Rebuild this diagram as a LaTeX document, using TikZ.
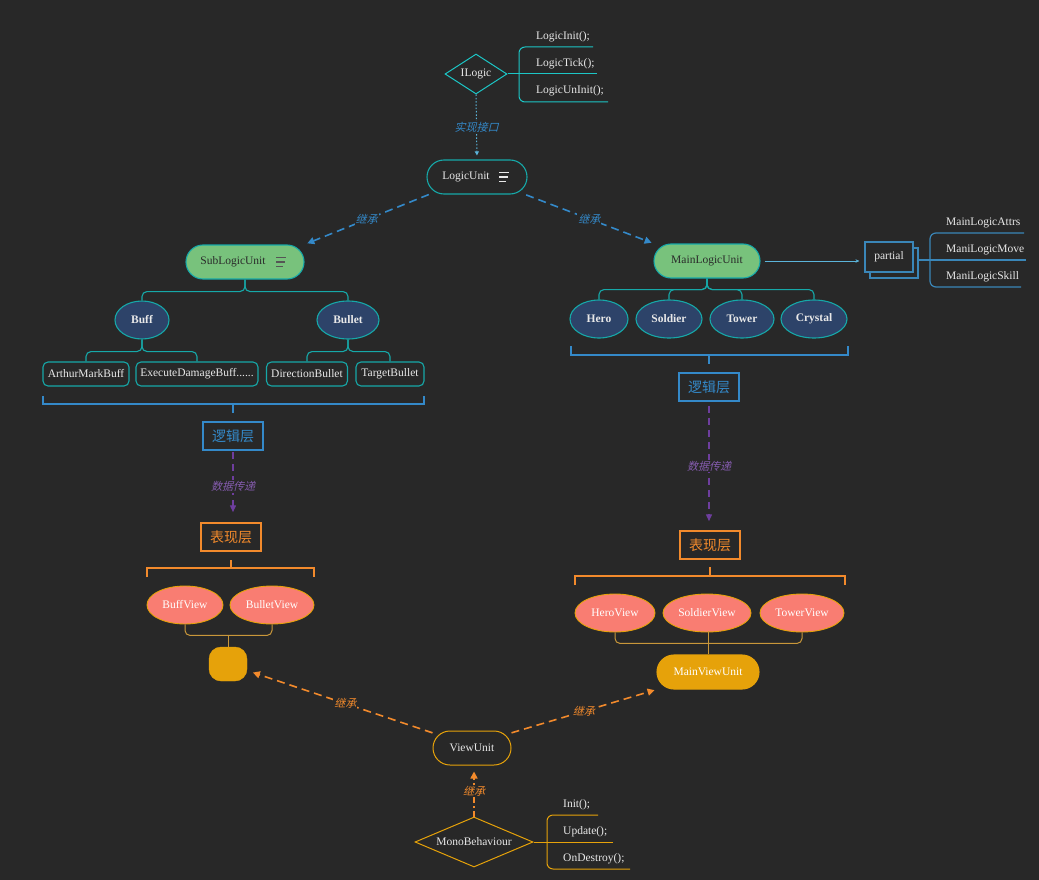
\documentclass[tikz,border=0pt]{standalone}
\usepackage{fontspec}
\setmainfont{Liberation Serif}
\newfontfamily\cjk{Noto Sans CJK SC}
\newfontfamily\cjkit{Noto Sans CJK SC}[FakeSlant=0.25]
\usetikzlibrary{shapes.geometric,arrows.meta,calc}
\definecolor{bgc}{HTML}{282828}
\definecolor{txtc}{HTML}{E8E8E8}
\definecolor{darktxt}{HTML}{2A2A2A}
\definecolor{cyanc}{HTML}{1CC6C6}
\definecolor{tealc}{HTML}{16A8A8}
\definecolor{bluec}{HTML}{3489C9}
\definecolor{bluep}{HTML}{3A86B8}
\definecolor{lightblue}{HTML}{5BB4DA}
\definecolor{greenc}{HTML}{78C27C}
\definecolor{navyc}{HTML}{2D4369}
\definecolor{orangec}{HTML}{F28A2C}
\definecolor{salmonc}{HTML}{F97D72}
\definecolor{goldc}{HTML}{E6A20A}
\definecolor{goldl}{HTML}{C9973A}
\definecolor{purpc}{HTML}{6E3E9E}
\newcommand{\mymenu}[3]{%
  \draw[#3, line width=1.1pt] ($(#1)+(#2)+(-5,-4.5)$) -- ++(10,0);
  \draw[#3, line width=1.1pt] ($(#1)+(#2)+(-5,0)$) -- ++(8.5,0);
  \draw[#3, line width=1.1pt] ($(#1)+(#2)+(-5,4.5)$) -- ++(6.5,0);}
\begin{document}
\begin{tikzpicture}[x=1pt,y=-1pt,
  fnt/.style={font=\fontsize{11.5}{13}\selectfont},
  txt/.style={text=txtc, fnt},
  meth/.style={txt, anchor=west, inner sep=1pt},
  unit/.style={rectangle, rounded corners=17pt, line width=1.1pt, minimum height=34pt, inner sep=2pt},
  leaf/.style={rectangle, rounded corners=5pt, draw=tealc, line width=1.1pt, fill=bgc, minimum height=24pt, txt, inner sep=2pt},
  nav/.style={ellipse, draw=tealc, line width=1.1pt, fill=navyc, txt, font=\bfseries\fontsize{11.5}{13}\selectfont, minimum height=38pt, inner sep=0pt},
  sal/.style={ellipse, draw=goldc, line width=0.9pt, fill=salmonc, text=white, fnt, minimum height=38pt, inner sep=0pt},
  tree/.style={tealc, line width=1.1pt, rounded corners=5pt},
  vtree/.style={goldl, line width=1pt, rounded corners=5pt},
  layer/.style={rectangle, draw, line width=1.5pt, minimum width=60pt, minimum height=28pt, fill=bgc, font=\cjk\fontsize{14}{16}\selectfont, inner sep=0pt},
  lbl/.style={font=\cjkit\fontsize{11}{13}\selectfont, fill=bgc, inner sep=1pt},
  dashb/.style={bluec, line width=1.6pt, dash pattern=on 8pt off 5pt, -{Triangle[length=7pt,width=7pt]}},
  dasho/.style={orangec, line width=1.6pt, dash pattern=on 8pt off 5pt, -{Triangle[length=7pt,width=7pt]}},
  dashp/.style={purpc, line width=1.4pt, dash pattern=on 7pt off 5pt, -{Triangle[length=7pt,width=6pt]}},
  brb/.style={bluec, line width=1.5pt},
  bro/.style={orangec, line width=1.5pt},
]
\fill[bgc] (0,0) rectangle (1039,880);
\useasboundingbox (0,0) rectangle (1039,880);

% ---------------- ILogic ----------------
\node[diamond, aspect=1.55, draw=cyanc, line width=1pt, minimum width=62pt, minimum height=40pt, inner sep=0pt, txt] (ilogic) at (476,74) {ILogic};
\draw[cyanc, line width=1pt, rounded corners=6pt] (593,47) -- (519,47) -- (519,102) -- (608,102);
\draw[cyanc, line width=1pt] (ilogic.east) -- (597,74);
\node[meth] (m1) at (535,37) {LogicInit();};
\node[meth] (m2) at (535,64) {LogicTick();};
\node[meth] (m3) at (535,91) {LogicUnInit();};

% ---------------- LogicUnit ----------------
\node[unit, draw=tealc, fill=bgc, minimum width=100pt, txt] (lu) at (477,177) {LogicUnit\kern22pt};
\mymenu{lu.center}{27,0}{txtc}
\draw[lightblue, line width=1pt, dash pattern=on 1.5pt off 1.8pt, -{Triangle[length=4pt,width=4pt]}, shorten >=4pt] (ilogic.south) -- node[lbl, text=bluec] (l0) {实现接口} (lu.north);

% ---------------- Sub / Main Logic ----------------
\node[unit, draw=tealc, fill=greenc, minimum width=118pt, text=darktxt, fnt] (sub) at (245,262) {SubLogicUnit\kern24pt};
\mymenu{sub.center}{36,0}{darktxt!80}
\node[unit, draw=tealc, fill=greenc, minimum width=106pt, text=darktxt, fnt] (ml) at (707,261) {MainLogicUnit};

\draw[dashb, shorten >=3pt] (lu.200) -- node[lbl, text=bluec] (l1) {继承} (sub.north east);
\draw[dashb, shorten >=2pt, shorten <=1pt] (lu.-20) -- node[lbl, text=bluec] (l2) {继承} (ml.north west);

% ---------------- left logic tree ----------------
\node[nav, minimum width=54pt] (buff) at (142,320) {Buff};
\node[nav, minimum width=62pt] (bullet) at (348,320) {Bullet};
\draw[tree] (sub.south) -- ++(0,12) -| (buff.north);
\draw[tree] (sub.south) -- ++(0,12) -| (bullet.north);
\node[leaf, minimum width=86pt] (amb) at (86,374) {ArthurMarkBuff};
\node[leaf, minimum width=122pt] (edb) at (197,374) {ExecuteDamageBuff......};
\node[leaf, minimum width=81pt] (db) at (307,374) {DirectionBullet};
\node[leaf, minimum width=68pt] (tb) at (390,374) {TargetBullet};
\draw[tree] (buff.south) -- ++(0,12) -| (amb.north);
\draw[tree] (buff.south) -- ++(0,12) -| (edb.north);
\draw[tree] (bullet.south) -- ++(0,12) -| (db.north);
\draw[tree] (bullet.south) -- ++(0,12) -| (tb.north);

\draw[brb] (43,396) -- (43,404) -- (424,404) -- (424,396);
\draw[brb] (233,404) -- (233,413);
\node[layer, draw=bluec, text=bluec] (lg1) at (233,436) {逻辑层};
\node[layer, draw=orangec, text=orangec] (bx1) at (231,537) {表现层};
\draw[dashp, shorten <=1pt, shorten >=10pt] (lg1.south) -- node[lbl, text=purpc!85!white] (l3) {数据传递} (lg1.south |- bx1.north);

\draw[bro] (147,577) -- (147,568) -- (314,568) -- (314,577);
\draw[bro] (231,568) -- (231,560);
\node[sal, minimum width=76pt] (bv) at (185,605) {BuffView};
\node[sal, minimum width=84pt] (blv) at (272,605) {BulletView};
\node[rectangle, rounded corners=12pt, fill=goldc, draw=goldc, minimum width=38pt, minimum height=34pt] (gsq) at (228,664) {};
\draw[vtree] (bv.south) -- ++(0,11) -| (blv.south);
\draw[vtree] (gsq.north) -- ++(0,-12);

% ---------------- right logic tree ----------------
\node[nav, minimum width=58pt] (hero) at (599,319) {Hero};
\node[nav, minimum width=66pt] (sold) at (669,319) {Soldier};
\node[nav, minimum width=64pt] (tower) at (742,319) {Tower};
\node[nav, minimum width=66pt] (crys) at (814,319) {Crystal};
\draw[tree] (ml.south) -- ++(0,11) -| (hero.north);
\draw[tree] (ml.south) -- ++(0,11) -| (sold.north);
\draw[tree] (ml.south) -- ++(0,11) -| (tower.north);
\draw[tree] (ml.south) -- ++(0,11) -| (crys.north);

\draw[brb] (571,346) -- (571,355) -- (848,355) -- (848,346);
\draw[brb] (709,355) -- (709,364);
\node[layer, draw=bluec, text=bluec] (lg2) at (709,387) {逻辑层};
\node[layer, draw=orangec, text=orangec] (bx2) at (710,545) {表现层};
\draw[dashp, shorten <=4pt, shorten >=9pt] (lg2.south) -- node[lbl, text=purpc!85!white] (l4) {数据传递} (lg2.south |- bx2.north);

\draw[bro] (575,585) -- (575,576) -- (845,576) -- (845,585);
\draw[bro] (710,576) -- (710,567);
\node[sal, minimum width=80pt] (hv) at (615,613) {HeroView};
\node[sal, minimum width=88pt] (svw) at (707,613) {SoldierView};
\node[sal, minimum width=84pt] (tvw) at (802,613) {TowerView};
\node[unit, fill=goldc, draw=goldc, minimum width=102pt, text=white, fnt] (mvu) at (708,672) {MainViewUnit};
\draw[vtree] (hv.south) -- ++(0,11) -| (tvw.south);
\draw[vtree] (mvu.north) -- ++(0,-23);

% ---------------- partial ----------------
\draw[bluep, line width=1.2pt] (870,248) rectangle (918,278);
\node[rectangle, draw=bluep, line width=1.2pt, fill=bgc, minimum width=48pt, minimum height=30pt, txt, inner sep=0pt] (part) at (889,257) {partial};
\draw[lightblue, line width=1pt, -{Stealth[length=4pt,width=3.5pt]}, shorten <=4pt, shorten >=5pt] (ml.east) -- (ml.east -| part.west);
\draw[bluep, line width=1.2pt] (918,260) -- (1026,260);
\draw[bluep, line width=1.2pt, rounded corners=6pt] (1024,233) -- (930,233) -- (930,287) -- (1021,287);
\node[meth] (p1) at (945,223) {MainLogicAttrs};
\node[meth] (p2) at (945,250) {ManiLogicMove};
\node[meth] (p3) at (945,277) {ManiLogicSkill};

% ---------------- ViewUnit ----------------
\node[unit, draw=goldc, fill=bgc, minimum width=78pt, line width=1pt, txt] (vu) at (472,748) {ViewUnit};
\draw[dasho, shorten >=6pt] (vu.159) -- node[lbl, text=orangec, pos=0.47] (l5) {继承} (gsq.-19);
\draw[dasho, shorten >=2pt] (vu.21) -- node[lbl, text=orangec] (l6) {继承} (mvu.south west);

% ---------------- MonoBehaviour ----------------
\node[diamond, aspect=2.36, draw=goldc, line width=1pt, minimum width=118pt, minimum height=50pt, inner sep=0pt, txt] (mono) at (474,842) {MonoBehaviour};
\draw[orangec, line width=1.6pt, dash pattern=on 6pt off 3pt on 2pt off 3pt, -{Triangle[length=7pt,width=7pt]}, shorten >=6pt] (mono.north) -- node[lbl, text=orangec] (l7) {继承} (mono.north |- vu.south);
\draw[goldc, line width=1pt] (mono.east) -- (613,842);
\draw[goldc, line width=1pt, rounded corners=6pt] (598,815) -- (547,815) -- (547,869) -- (630,869);
\node[meth] (n1) at (562,805) {Init();};
\node[meth] (n2) at (562,832) {Update();};
\node[meth] (n3) at (562,859) {OnDestroy();};
\end{tikzpicture}
\end{document}
